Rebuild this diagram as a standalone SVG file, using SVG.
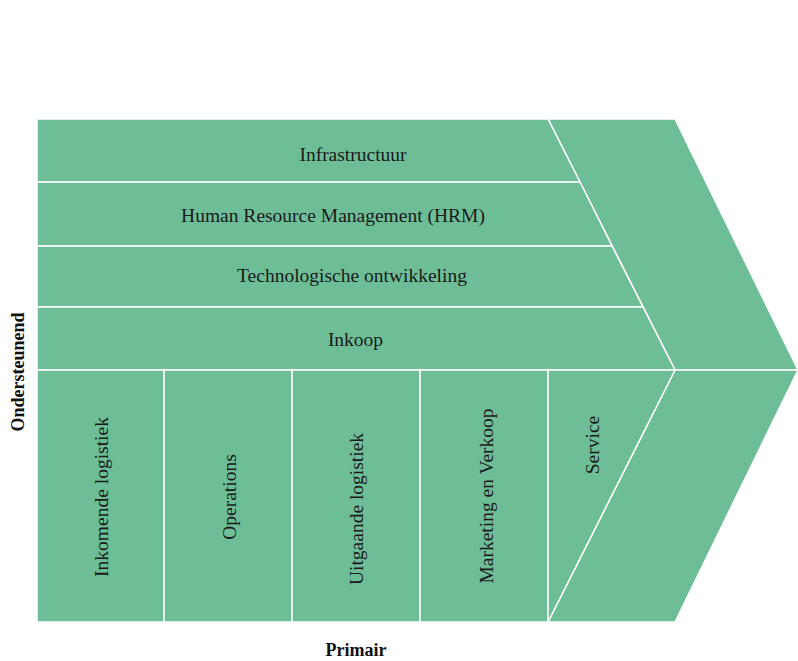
<svg xmlns="http://www.w3.org/2000/svg" width="798" height="661" viewBox="0 0 798 661">
<style>
.seg{fill:#6dbe97;stroke:#ffffff;stroke-width:1.5;stroke-linejoin:miter}
.lbl{font-family:"Liberation Serif","DejaVu Serif",serif;font-size:19.5px;fill:#1a1a1a;text-anchor:middle}
.ax{font-family:"Liberation Serif","DejaVu Serif",serif;font-size:18px;font-weight:bold;fill:#111111;text-anchor:middle}
</style>
<rect width="798" height="661" fill="#ffffff"/>
<g id="marge">
<polygon class="seg" points="548,119 675,119 798,370 675,370"/>
<polygon class="seg" points="675,370 798,370 675,622 548,622"/>
</g>
<g id="infrastructuur">
<polygon class="seg" points="37,119 548,119 580,182 37,182"/>
<text class="lbl" x="353" y="161">Infrastructuur</text>
</g>
<g id="hrm">
<polygon class="seg" points="37,182 580,182 612,246 37,246"/>
<text class="lbl" x="333" y="222">Human Resource Management (HRM)</text>
</g>
<g id="technologie">
<polygon class="seg" points="37,246 612,246 643,307 37,307"/>
<text class="lbl" x="352" y="282">Technologische ontwikkeling</text>
</g>
<g id="inkoop">
<polygon class="seg" points="37,307 643,307 675,370 37,370"/>
<text class="lbl" x="355.5" y="346">Inkoop</text>
</g>
<g id="inkomende-logistiek">
<rect class="seg" x="37" y="370" width="127" height="252"/>
<text class="lbl" transform="translate(108,497) rotate(-90)">Inkomende logistiek</text>
</g>
<g id="operations">
<rect class="seg" x="164" y="370" width="128" height="252"/>
<text class="lbl" transform="translate(236,497) rotate(-90)">Operations</text>
</g>
<g id="uitgaande-logistiek">
<rect class="seg" x="292" y="370" width="128" height="252"/>
<text class="lbl" transform="translate(363,509) rotate(-90)">Uitgaande logistiek</text>
</g>
<g id="marketing">
<rect class="seg" x="420" y="370" width="128" height="252"/>
<text class="lbl" transform="translate(493,496) rotate(-90)">Marketing en Verkoop</text>
</g>
<g id="service">
<polygon class="seg" points="548,370 675,370 548,622"/>
<text class="lbl" transform="translate(599,445) rotate(-90)">Service</text>
</g>
<g id="connectors"></g>
<g id="labels">
<text class="ax" x="356" y="656">Primair</text>
<text class="ax" transform="translate(24,372) rotate(-90)">Ondersteunend</text>
</g>
</svg>
